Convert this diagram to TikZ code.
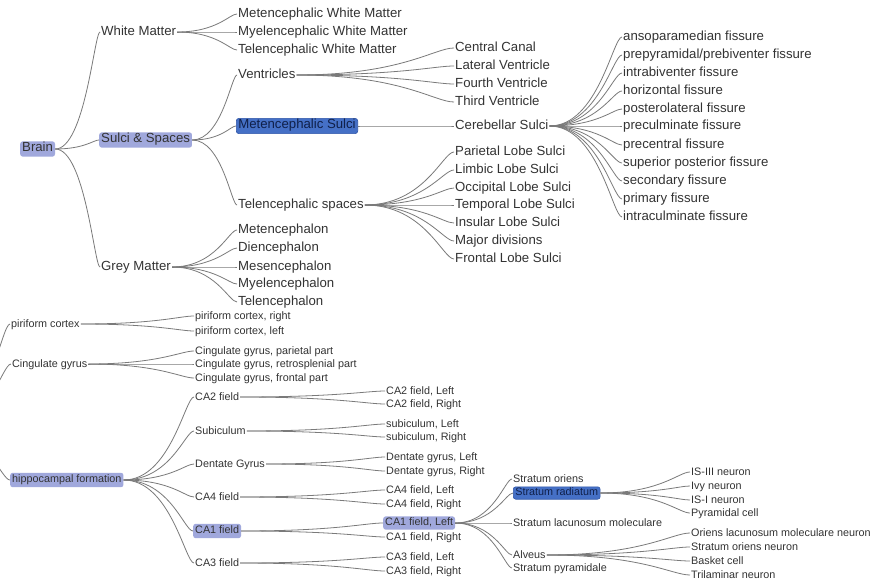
\documentclass[tikz,border=0pt]{standalone}
\usepackage{fontspec}
\setmainfont{Liberation Sans}
\usetikzlibrary{calc}
\definecolor{txt}{HTML}{333333}
\definecolor{edgec}{HTML}{7A7A7A}
\definecolor{lightbox}{HTML}{A0A8DC}
\definecolor{darkbox}{HTML}{4570C6}
\definecolor{darkborder}{HTML}{2E55A8}
\definecolor{navy}{HTML}{10204A}
\begin{document}
\begin{tikzpicture}[x=1pt,y=-1pt,
  base/.style={anchor=west, inner xsep=1pt, inner ysep=0pt, text=txt, text height=.72em, text depth=0pt},
  big/.style={base, font=\fontsize{13.2}{15}\selectfont},
  sml/.style={base, font=\fontsize{10.8}{13}\selectfont},
  hl/.style={fill=lightbox, rounded corners=2.5pt, inner xsep=2pt, inner ysep=2.6pt, text height=.75em, text depth=.25em},
  hd/.style={fill=darkbox, draw=darkborder, line width=0.6pt, rounded corners=2.5pt, inner xsep=2pt, inner ysep=2.6pt, text height=.75em, text depth=.25em, text=navy},
  br/.style={draw=edgec, line width=0.8pt, to path={.. controls ($(\tikztostart)!0.667!(\tikztotarget |- \tikztostart)$) and ($(\tikztotarget)!0.125!(\tikztostart |- \tikztotarget)$) .. (\tikztotarget)}},
]
\useasboundingbox (0,0) rectangle (882,580);
\clip (0,0) rectangle (882,580);
\fill[white] (0,0) rectangle (882,580);

% ---------- upper tree ----------
\node[big,hl] (brain) at (20,149) {Brain};
\node[big] (wm) at (100,32) {White Matter};
\node[big,hl] (ss) at (99,140) {Sulci \& Spaces};
\node[big] (gm) at (100,267) {Grey Matter};

\node[big] (mwm) at (237,14) {Metencephalic White Matter};
\node[big] (ywm) at (237,32) {Myelencephalic White Matter};
\node[big] (twm) at (237,50) {Telencephalic White Matter};

\node[big] (ven) at (237,75) {Ventricles};
\node[big,hd] (ms) at (236,126) {Metencephalic Sulci};
\node[big] (tsp) at (237,205) {Telencephalic spaces};

\node[big] (g1) at (237,230) {Metencephalon};
\node[big] (g2) at (237,248) {Diencephalon};
\node[big] (g3) at (237,267) {Mesencephalon};
\node[big] (g4) at (237,284) {Myelencephalon};
\node[big] (g5) at (237,302) {Telencephalon};

\node[big] (v1) at (454,48) {Central Canal};
\node[big] (v2) at (454,66) {Lateral Ventricle};
\node[big] (v3) at (454,84) {Fourth Ventricle};
\node[big] (v4) at (454,102) {Third Ventricle};

\node[big] (cs) at (454,126) {Cerebellar Sulci};

\node[big] (t1) at (454,152) {Parietal Lobe Sulci};
\node[big] (t2) at (454,170) {Limbic Lobe Sulci};
\node[big] (t3) at (454,188) {Occipital Lobe Sulci};
\node[big] (t4) at (454,205) {Temporal Lobe Sulci};
\node[big] (t5) at (454,223) {Insular Lobe Sulci};
\node[big] (t6) at (454,241) {Major divisions};
\node[big] (t7) at (454,259) {Frontal Lobe Sulci};

\node[big] (f1) at (622,37) {ansoparamedian fissure};
\node[big] (f2) at (622,55) {prepyramidal/prebiventer fissure};
\node[big] (f3) at (622,73) {intrabiventer fissure};
\node[big] (f4) at (622,91) {horizontal fissure};
\node[big] (f5) at (622,109) {posterolateral fissure};
\node[big] (f6) at (622,126) {preculminate fissure};
\node[big] (f7) at (622,145) {precentral fissure};
\node[big] (f8) at (622,163) {superior posterior fissure};
\node[big] (f9) at (622,181) {secondary fissure};
\node[big] (f10) at (622,199) {primary fissure};
\node[big] (f11) at (622,217) {intraculminate fissure};

\foreach \c in {wm,ss,gm} \draw[br] (brain.east) to (\c.west);
\foreach \c in {mwm,ywm,twm} \draw[br] (wm.east) to (\c.west);
\foreach \c in {ven,ms,tsp} \draw[br] (ss.east) to (\c.west);
\foreach \c in {g1,g2,g3,g4,g5} \draw[br] (gm.east) to (\c.west);
\foreach \c in {v1,v2,v3,v4} \draw[br] (ven.east) to (\c.west);
\draw[br] (ms.east) to (cs.west);
\foreach \c in {t1,t2,t3,t4,t5,t6,t7} \draw[br] (tsp.east) to (\c.west);
\foreach \c in {f1,f2,f3,f4,f5,f6,f7,f8,f9,f10,f11} \draw[br] (cs.east) to (\c.west);

% ---------- lower tree ----------
\coordinate (offroot) at (-60,430);
\node[sml] (pir) at (10,324) {piriform cortex};
\node[sml] (pir1) at (194,316) {piriform cortex, right};
\node[sml] (pir2) at (194,331) {piriform cortex, left};

\node[sml] (cing) at (11,364) {Cingulate gyrus};
\node[sml] (cg1) at (194,351) {Cingulate gyrus, parietal part};
\node[sml] (cg2) at (194,364) {Cingulate gyrus, retrosplenial part};
\node[sml] (cg3) at (194,378) {Cingulate gyrus, frontal part};

\node[sml,hl,inner ysep=2.2pt] (hip) at (10,480) {hippocampal formation};
\node[sml] (ca2) at (194,397) {CA2 field};
\node[sml] (sub) at (194,431) {Subiculum};
\node[sml] (dg) at (194,464) {Dentate Gyrus};
\node[sml] (ca4) at (194,497) {CA4 field};
\node[sml,hl,inner ysep=2.2pt] (ca1) at (193,531) {CA1 field};
\node[sml] (ca3) at (194,563) {CA3 field};

\node[sml] (ca2l) at (385,391) {CA2 field, Left};
\node[sml] (ca2r) at (385,404) {CA2 field, Right};
\node[sml] (subl) at (385,424) {subiculum, Left};
\node[sml] (subr) at (385,437) {subiculum, Right};
\node[sml] (dgl) at (385,457) {Dentate gyrus, Left};
\node[sml] (dgr) at (385,471) {Dentate gyrus, Right};
\node[sml] (ca4l) at (385,490) {CA4 field, Left};
\node[sml] (ca4r) at (385,504) {CA4 field, Right};
\node[sml,hl,inner ysep=1.6pt] (ca1l) at (383,523) {CA1 field, Left};
\node[sml] (ca1r) at (385,537) {CA1 field, Right};
\node[sml] (ca3l) at (385,557) {CA3 field, Left};
\node[sml] (ca3r) at (385,571) {CA3 field, Right};

\node[sml] (so) at (512,479) {Stratum oriens};
\node[sml,hd,inner ysep=1.2pt] (sr) at (513,493) {Stratum radiatum};
\node[sml] (slm) at (512,523) {Stratum lacunosum moleculare};
\node[sml] (alv) at (512,555) {Alveus};
\node[sml] (sp) at (512,568) {Stratum pyramidale};

\node[sml] (r1) at (690,472) {IS-III neuron};
\node[sml] (r2) at (690,486) {Ivy neuron};
\node[sml] (r3) at (690,500) {IS-I neuron};
\node[sml] (r4) at (690,513) {Pyramidal cell};

\node[sml] (a1) at (690,533) {Oriens lacunosum moleculare neuron};
\node[sml] (a2) at (690,547) {Stratum oriens neuron};
\node[sml] (a3) at (690,561) {Basket cell};
\node[sml] (a4) at (690,575) {Trilaminar neuron};

\foreach \c in {pir,cing,hip} \draw[br] (offroot) to (\c.west);
\foreach \c in {pir1,pir2} \draw[br] (pir.east) to (\c.west);
\foreach \c in {cg1,cg2,cg3} \draw[br] (cing.east) to (\c.west);
\foreach \c in {ca2,sub,dg,ca4,ca1,ca3} \draw[br] (hip.east) to (\c.west);
\foreach \c in {ca2l,ca2r} \draw[br] (ca2.east) to (\c.west);
\foreach \c in {subl,subr} \draw[br] (sub.east) to (\c.west);
\foreach \c in {dgl,dgr} \draw[br] (dg.east) to (\c.west);
\foreach \c in {ca4l,ca4r} \draw[br] (ca4.east) to (\c.west);
\foreach \c in {ca1l,ca1r} \draw[br] (ca1.east) to (\c.west);
\foreach \c in {ca3l,ca3r} \draw[br] (ca3.east) to (\c.west);
\foreach \c in {so,sr,slm,alv,sp} \draw[br] (ca1l.east) to (\c.west);
\foreach \c in {r1,r2,r3,r4} \draw[br] (sr.east) to (\c.west);
\foreach \c in {a1,a2,a3,a4} \draw[br] (alv.east) to (\c.west);
\end{tikzpicture}
\end{document}
